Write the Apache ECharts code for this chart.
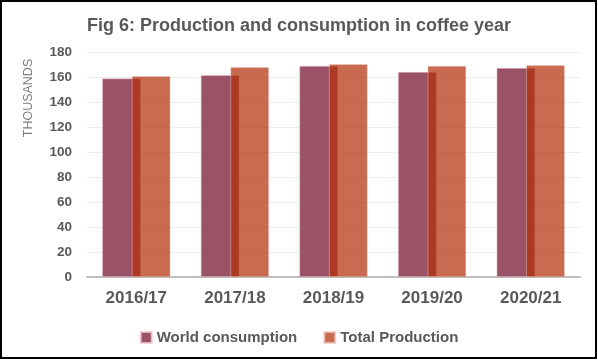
<!DOCTYPE html>
<html><head><meta charset="utf-8">
<script src="https://cdn.jsdelivr.net/npm/echarts@6/dist/echarts.min.js"></script>
<style>html,body{margin:0;padding:0;background:#fff}#c{width:598px;height:360px}</style>
</head><body><div id="c"></div>
<script>
const categories = ['2016/17', '2017/18', '2018/19', '2019/20', '2020/21'];
const worldConsumption = [158.8, 161.4, 168.8, 164.0, 167.2];
const totalProduction = [160.6, 167.8, 170.2, 168.8, 169.4];
const yTicks = [0, 20, 40, 60, 80, 100, 120, 140, 160, 180];

const chart = echarts.init(document.getElementById('c'), null, {renderer: 'canvas'});
const font = 'Arial, "Liberation Sans", sans-serif';
chart.setOption({
  animation: false,
  title: {
    text: 'Fig 6: Production and consumption in coffee year',
    left: 'center', top: 12,
    textStyle: {fontFamily: font, fontSize: 18, fontWeight: 'bold', color: '#595959'}
  },
  grid: {left: 87, right: 18, top: 52, bottom: 83},
  legend: {
    data: ['World consumption', 'Total Production'],
    left: 'center', top: 325, itemWidth: 11, itemHeight: 11, itemGap: 26,
    icon: 'rect',
    textStyle: {fontFamily: font, fontSize: 15, fontWeight: 'bold', color: '#595959'}
  },
  xAxis: {
    type: 'category', data: categories,
    axisLine: {lineStyle: {color: '#bfbfbf', width: 2}},
    axisTick: {show: false},
    axisLabel: {fontFamily: font, fontSize: 17, fontWeight: 'bold', color: '#595959', margin: 13}
  },
  yAxis: {
    type: 'value', min: yTicks[0], max: yTicks[yTicks.length - 1], interval: 20,
    axisLine: {show: false}, axisTick: {show: false},
    splitLine: {lineStyle: {color: '#ececec', width: 1}},
    axisLabel: {fontFamily: font, fontSize: 13.5, fontWeight: 'bold', color: '#595959', margin: 15}
  },
  graphic: [
    {type: 'text', x: 29, y: 98, rotation: Math.PI / 2,
     style: {text: 'THOUSANDS', fontFamily: font, fontSize: 12.5, fill: '#7f7f7f', align: 'center', verticalAlign: 'middle'}},
    {type: 'rect', shape: {x: 1, y: 1, width: 595, height: 357}, style: {fill: 'none', stroke: '#000', lineWidth: 2}, z: 100}
  ],
  series: [
    {name: 'World consumption', type: 'bar', data: worldConsumption, barWidth: 38.5, barGap: '-23%',
     itemStyle: {color: '#9a5266', borderColor: 'rgba(240,200,210,0.8)', borderWidth: 0.6}},
    {name: 'Total Production', type: 'bar', data: totalProduction, barWidth: 38.5,
     itemStyle: {color: 'rgba(179,46,8,0.71)', borderColor: 'rgba(240,200,190,0.8)', borderWidth: 0.6}}
  ]
});
</script></body></html>
